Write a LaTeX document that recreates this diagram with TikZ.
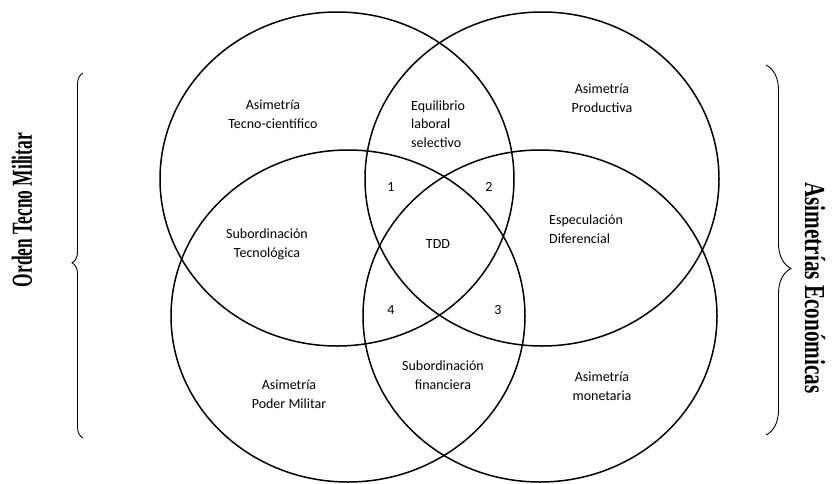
\documentclass[tikz,border=0pt]{standalone}
\usepackage{fontspec}
\setmainfont{Carlito}
\newfontfamily\lefttitlefont{Liberation Serif}[FakeStretch=0.6]
\newfontfamily\righttitlefont{Liberation Serif}[FakeStretch=0.73]
\usetikzlibrary{decorations.pathreplacing}
\newcommand{\labelfont}{\fontsize{14}{18.7}\selectfont}

\begin{document}
\begin{tikzpicture}[x=1pt, y=-1pt,
    set/.style={line width=1.5pt},
    region/.style={font=\labelfont, align=center, inner sep=0pt},
    bracket/.style={line width=0.9pt, decorate}]
    \useasboundingbox (0,0) rectangle (838,483);

    % the four sets
    \draw[set] (337,179) ellipse [x radius=177pt, y radius=167pt];
    \draw[set] (542,179) ellipse [x radius=177pt, y radius=167pt];
    \draw[set] (348,316) ellipse [x radius=177pt, y radius=166pt];
    \draw[set] (540,316) ellipse [x radius=177pt, y radius=166pt];

    % regions
    \node (tecno) at (273,114) [region] {Asimetría\\Tecno-científico};
    \node (equil) at (411,124) [region, anchor=west, align=left] {Equilibrio\\laboral\\selectivo};
    \node (prod) at (602,98) [region] {Asimetría\\Productiva};
    \node (one) at (391,187) [region] {1};
    \node (two) at (489,187) [region] {2};
    \node (subtec) at (267,244) [region] {Subordinación\\Tecnológica};
    \node (TDD) at (438,244) [region] {TDD};
    \node (espec) at (549,229) [region, anchor=west, align=left] {Especulación\\Diferencial};
    \node (four) at (391,310) [region] {4};
    \node (three) at (498,310) [region] {3};
    \node (subfin) at (443,375) [region] {Subordinación\\financiera};
    \node (poder) at (289,394) [region] {Asimetría\\Poder Militar};
    \node (monet) at (602,386) [region] {Asimetría\\monetaria};

    % side titles
    \draw[bracket, decoration={brace, amplitude=11pt, aspect=0.48}] (83,438) -- (83,73);
    \draw[bracket, decoration={brace, amplitude=25pt, aspect=0.55}] (766,65) -- (766,435);
    \node (orden) at (22,210) [rotate=90, font=\lefttitlefont\bfseries\fontsize{29}{30}\selectfont] {Orden Tecno Militar};
    \node (asim) at (815,288) [rotate=-90, font=\righttitlefont\bfseries\fontsize{29}{30}\selectfont] {Asimetrías Económicas};
\end{tikzpicture}
\end{document}
